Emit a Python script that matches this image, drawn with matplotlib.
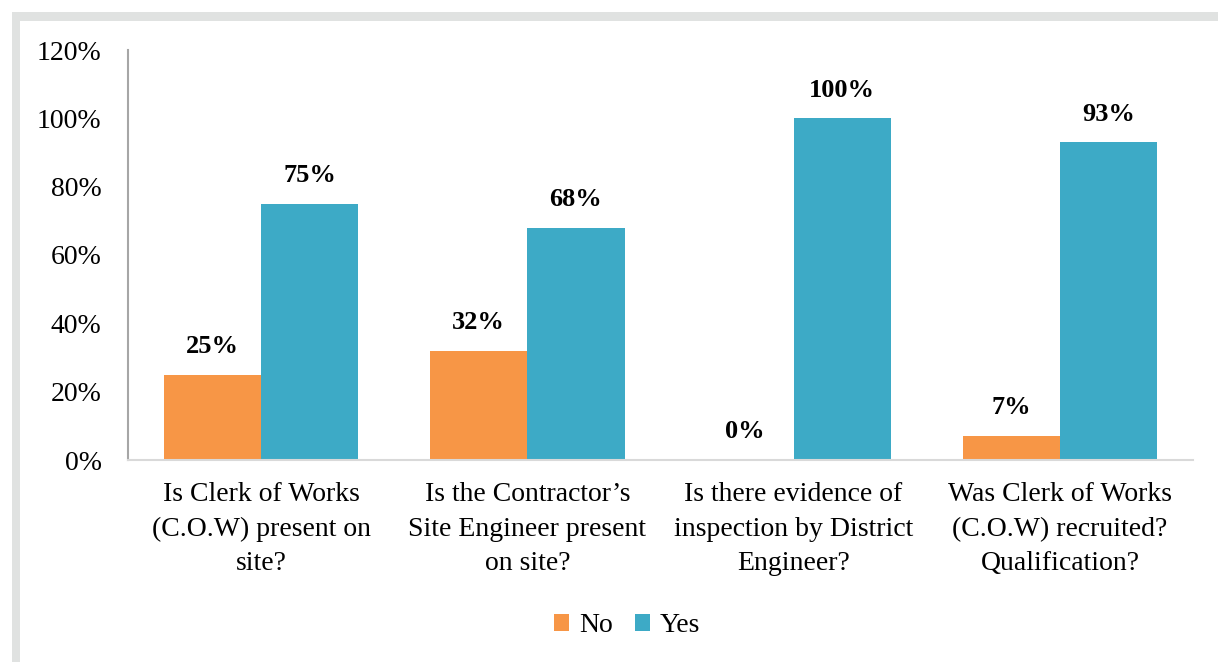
import matplotlib
matplotlib.use("Agg")
import matplotlib.pyplot as plt
from matplotlib.patches import Rectangle
import numpy as np

categories = [
    "Is Clerk of Works\n(C.O.W) present on\nsite?",
    "Is the Contractor\u2019s\nSite Engineer present\non site?",
    "Is there evidence of\ninspection by District\nEngineer?",
    "Was Clerk of Works\n(C.O.W) recruited?\nQualification?",
]
no_vals = [25, 32, 0, 7]
yes_vals = [75, 68, 100, 93]
series_names = ["No", "Yes"]
yticks = [0, 20, 40, 60, 80, 100, 120]

plt.rcParams['font.family'] = ['Liberation Serif', 'DejaVu Serif']

fig = plt.figure(figsize=(12.18, 6.62), dpi=100)
# frame bands
fig.patches.append(Rectangle((12/1218, 1-21/662), 1-12/1218, 9/662, transform=fig.transFigure,
                             facecolor='#E0E2E1', edgecolor='none', zorder=0))
fig.patches.append(Rectangle((12/1218, 0), 8/1218, 1-12/662, transform=fig.transFigure,
                             facecolor='#E0E2E1', edgecolor='none', zorder=0))

ax = fig.add_axes([128/1218, 1-460/662, (1193-128)/1218, (460-50)/662])
x = np.arange(len(categories))
w = 0.365
c_no = '#F79646'
c_yes = '#3DAAC6'
b1 = ax.bar(x - w/2, no_vals, w, color=c_no, label=series_names[0])
b2 = ax.bar(x + w/2, yes_vals, w, color=c_yes, label=series_names[1])

for bars, vals in ((b1, no_vals), (b2, yes_vals)):
    for b, v in zip(bars, vals):
        ax.annotate(f"{v}%", (b.get_x() + b.get_width()/2, v), xytext=(0, 12),
                    textcoords='offset points', ha='center', va='bottom',
                    fontsize=19, fontweight='bold')

ax.set_xlim(-0.5, len(categories) - 0.5)
ax.set_ylim(0, 120)
ax.set_yticks(yticks)
ax.set_yticklabels([f"{t}%" for t in yticks], fontsize=20)
ax.set_xticks(x)
ax.set_xticklabels(categories, fontsize=20, linespacing=1.5)
ax.tick_params(axis='both', length=0)
ax.tick_params(axis='y', pad=19)
ax.tick_params(axis='x', pad=16)
for s in ('top', 'right'):
    ax.spines[s].set_visible(False)
ax.spines['left'].set_color('#A6A6A6')
ax.spines['left'].set_linewidth(1.5)
ax.spines['bottom'].set_color('#D9D9D9')
ax.spines['bottom'].set_linewidth(1.5)

fig.legend(handles=[b1, b2], labels=series_names, loc='center', bbox_to_anchor=(627/1218, 1-626/662),
           ncol=2, frameon=False, fontsize=20, handlelength=0.55, handleheight=0.55,
           handletextpad=0.35, columnspacing=0.8)

fig.savefig("out.png", dpi=100)
